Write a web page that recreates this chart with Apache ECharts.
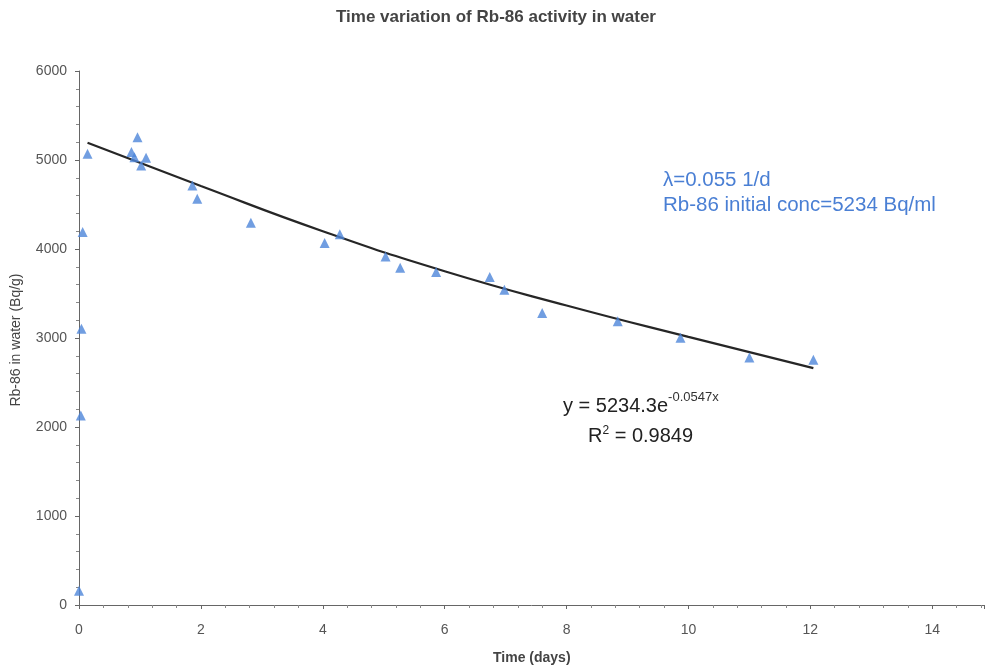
<!DOCTYPE html>
<html>
<head>
<meta charset="utf-8">
<script src="https://cdn.jsdelivr.net/npm/echarts@6/dist/echarts.min.js"></script>
<style>
html,body{margin:0;padding:0;background:#fff;}
#chart{width:987px;height:671px;}
</style>
</head>
<body>
<div id="chart"></div>
<script>
// Measured data: time (days) and Rb-86 activity (Bq/g)
const timeDays = [0.00, 0.03, 0.04, 0.06, 0.14, 0.86, 0.91, 0.96, 1.02, 1.10, 1.86, 1.94, 2.82, 4.03, 4.28, 5.03, 5.27, 5.86, 6.74, 6.98, 7.60, 8.84, 9.87, 11.00, 12.05];
const activity = [160, 2130, 3105, 4190, 5070, 5090, 5030, 5256, 4938, 5025, 4714, 4564, 4295, 4068, 4165, 3917, 3790, 3741, 3685, 3543, 3281, 3187, 3004, 2780, 2757];

// Exponential trendline
const trendX = [0.14, 2, 4, 6, 8, 10, 12.05];
const trendY = [5193, 4708, 4200, 3750, 3365, 3012, 2662];

const xTicks = [0, 2, 4, 6, 8, 10, 12, 14];
const yTicks = [0, 1000, 2000, 3000, 4000, 5000, 6000];

const chartTitle = 'Time variation of Rb-86 activity in water';
const xName = 'Time (days)';
const yName = 'Rb-86 in water (Bq/g)';
const note1 = 'λ=0.055 1/d';
const note2 = 'Rb-86 initial conc=5234 Bq/ml';
const eqMain = 'y = 5234.3e';
const eqExp = '-0.0547x';
const r2Text = '0.9849';

const chart = echarts.init(document.getElementById('chart'));
const fontFam = 'Arial, "Liberation Sans", Helvetica, sans-serif';

chart.setOption({
  backgroundColor: '#ffffff',
  animation: false,
  grid: { left: 79, right: 2, top: 71, bottom: 66, containLabel: false },
  xAxis: {
    type: 'value',
    min: 0, max: 14.85, interval: 2,
    axisLine: { show: true, onZero: false, lineStyle: { color: '#666', width: 1 } },
    axisTick: { show: true, length: 4, inside: false, lineStyle: { color: '#666' } },
    minorTick: { show: true, splitNumber: 5, length: 3, lineStyle: { color: '#888' } },
    splitLine: { show: false },
    axisLabel: { color: '#555', fontSize: 14, fontFamily: fontFam, margin: 18,
      formatter: v => xTicks.includes(v) ? String(v) : '' }
  },
  yAxis: {
    type: 'value',
    min: 0, max: 6000, interval: 1000,
    axisLine: { show: true, lineStyle: { color: '#666', width: 1 } },
    axisTick: { show: true, length: 4, lineStyle: { color: '#666' } },
    minorTick: { show: true, splitNumber: 5, length: 3, lineStyle: { color: '#888' } },
    splitLine: { show: false },
    axisLabel: { color: '#555', fontSize: 14, fontFamily: fontFam, margin: 12,
      formatter: v => yTicks.includes(v) ? String(v) : '' }
  },
  series: [
    {
      name: 'trend',
      type: 'line',
      data: trendX.map((x, i) => [x, trendY[i]]),
      smooth: true,
      showSymbol: false,
      lineStyle: { color: '#262626', width: 2.2 },
      z: 2
    },
    {
      name: 'measured',
      type: 'scatter',
      data: timeDays.map((x, i) => [x, activity[i]]),
      symbol: 'triangle',
      symbolSize: 10,
      itemStyle: { color: '#4d86d9' },
      z: 3
    }
  ],
  graphic: [
    { type: 'text', x: 496, y: 17,
      style: { text: chartTitle, font: 'bold 17px ' + fontFam, fill: '#444', align: 'center', verticalAlign: 'middle' } },
    { type: 'text', x: 493, y: 658,
      style: { text: xName, font: 'bold 14px ' + fontFam, fill: '#444', verticalAlign: 'middle' } },
    { type: 'text', x: 16, y: 340, rotation: Math.PI / 2,
      style: { text: yName, font: '14px ' + fontFam, fill: '#444', align: 'center', verticalAlign: 'middle' } },
    { type: 'text', x: 663, y: 180,
      style: { text: note1, font: '20.5px ' + fontFam, fill: '#4a7fd4', verticalAlign: 'middle' } },
    { type: 'text', x: 663, y: 205,
      style: { text: note2, font: '20.5px ' + fontFam, fill: '#4a7fd4', verticalAlign: 'middle' } },
    { type: 'text', x: 563, y: 391,
      style: {
        text: '{m|' + eqMain + '}{s|' + eqExp + '}',
        rich: {
          m: { font: '20px ' + fontFam, fill: '#222', verticalAlign: 'bottom' },
          s: { font: '13px ' + fontFam, fill: '#333', verticalAlign: 'top', padding: [0, 0, 12, 0] }
        }
      } },
    { type: 'text', x: 588, y: 425,
      style: {
        text: '{m|R}{s|2}{m| = ' + r2Text + '}',
        rich: {
          m: { font: '20px ' + fontFam, fill: '#222' },
          s: { font: '12px ' + fontFam, fill: '#222', padding: [0, 0, 11, 0] }
        }
      } }
  ]
});
</script>
</body>
</html>
